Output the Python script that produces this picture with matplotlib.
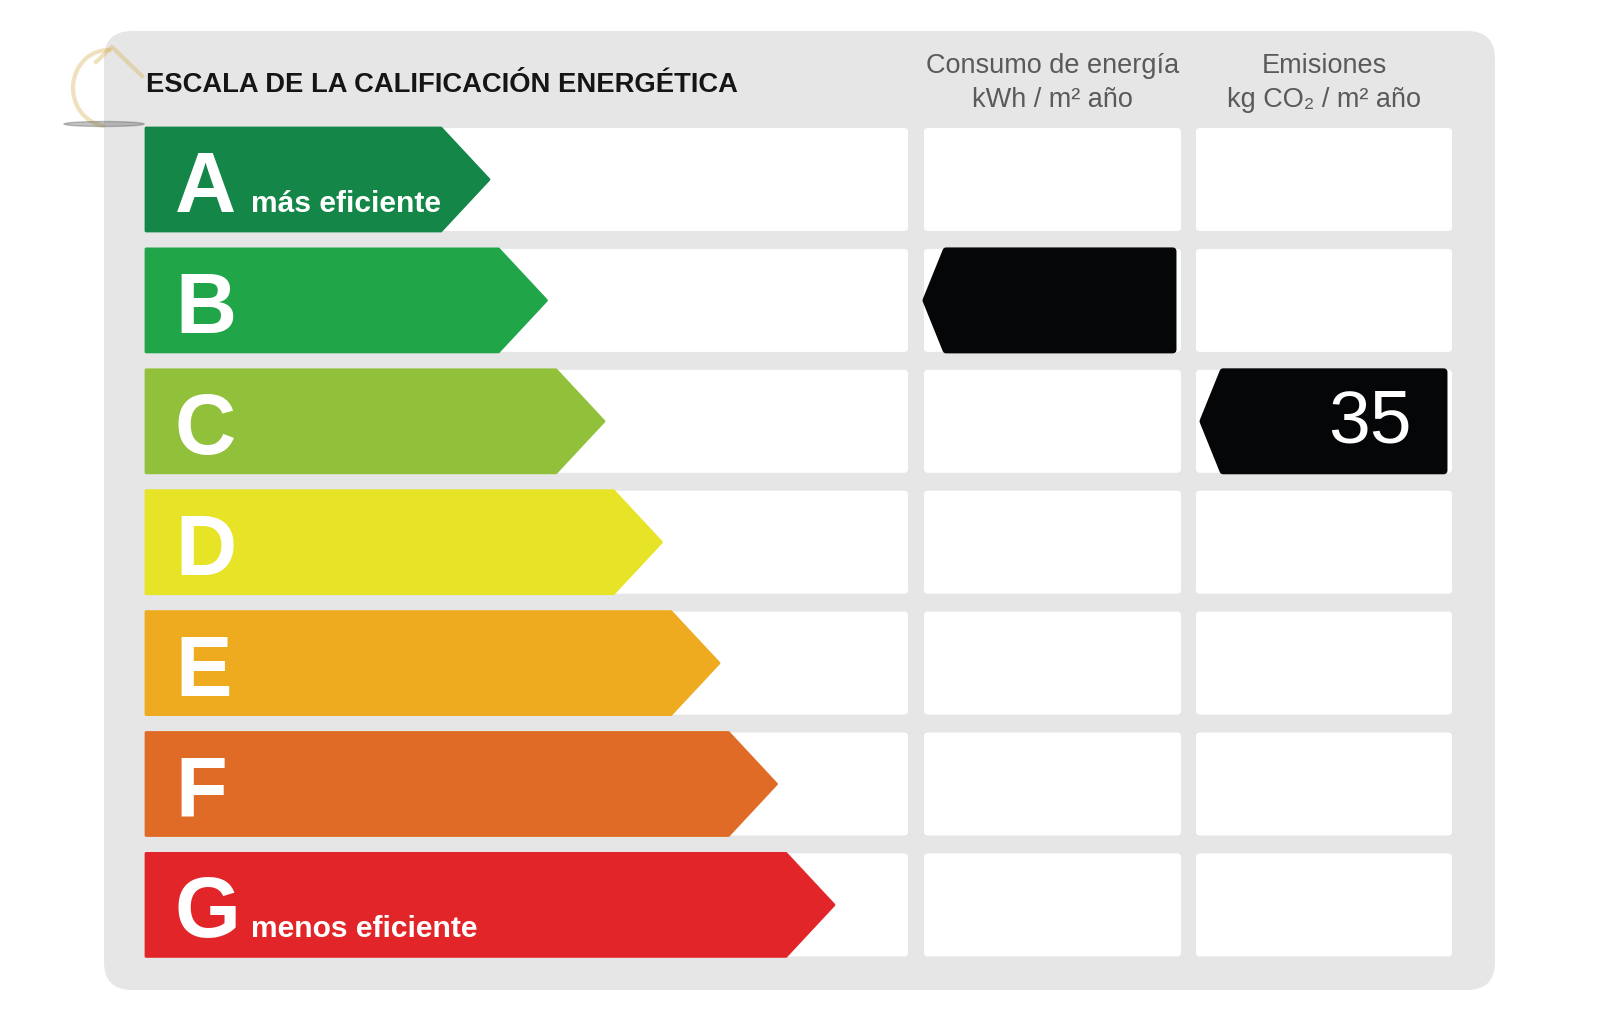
import matplotlib
matplotlib.use('Agg')
import matplotlib.pyplot as plt
from matplotlib import font_manager
from matplotlib.patches import FancyBboxPatch, Polygon, Arc, Ellipse

# Energy rating scale data
ratings = ['A', 'B', 'C', 'D', 'E', 'F', 'G']
rating_colors = ['#138648', '#20a548', '#91c13a', '#e7e326',
                 '#eeab20', '#e06b26', '#e22529']
best_label = 'más eficiente'
worst_label = 'menos eficiente'

title = 'ESCALA DE LA CALIFICACIÓN ENERGÉTICA'
col_headers = ['Consumo de energía\nkWh / m² año', 'Emisiones\nkg CO₂ / m² año']

# Result of this property: letter and value per column
consumption_rating = 'B'
consumption_value = ''
emission_rating = 'C'
emission_value = 35

# Layout (pixels, y downwards)
W, H = 1600, 1025
row_top0 = 128
row_pitch = 120.9
row_h = 103
col1 = (146, 908)
col2 = (924, 1181)
col3 = (1196, 1452)
tip0 = 489
tip_step = 57.5
tip_depth = 48

fig = plt.figure(figsize=(16, 10.25), dpi=100)
ax = fig.add_axes([0, 0, 1, 1])
ax.set_xlim(0, W)
ax.set_ylim(H, 0)
ax.axis('off')
fig.patch.set_facecolor('white')

sans = ['Liberation Sans', 'DejaVu Sans']

# condensed bold face for the title if one is installed
title_kw = dict(family=['Liberation Sans', 'DejaVu Sans'], fontsize=19.7)
for fam in ['Liberation Sans Narrow', 'Noto Sans', 'Roboto', 'Open Sans']:
    fp = font_manager.FontProperties(family=fam, weight='bold', stretch='condensed')
    try:
        path = font_manager.findfont(fp, fallback_to_default=False)
    except Exception:
        continue
    if 'ondensed' in path or 'Narrow' in path:
        title_kw = dict(family=[fam, 'DejaVu Sans'], fontstretch='condensed',
                        fontsize=24)
        break

# Grey rounded panel
ax.add_patch(FancyBboxPatch((104, 31), 1391, 959,
                            boxstyle='round,pad=0,rounding_size=28',
                            fc='#e6e6e6', ec='none', zorder=0))

# Header texts
ax.text(146, 92, title, fontweight='bold', color='#151515', ha='left',
        va='baseline', zorder=3, **title_kw)
for header, (x0, x1) in zip(col_headers, [col2, col3]):
    ax.text((x0 + x1) / 2, 83, header, family=sans, fontsize=19.5,
            color='#5a5a5a', ha='center', va='center', linespacing=1.38)

# Faint watermark logo
ax.add_patch(Arc((108, 88), 70, 76, theta1=95, theta2=275, lw=3,
                 color='#d9b45a', alpha=0.4, zorder=2))
ax.plot([96, 112, 142], [62, 47, 76], color='#d9b45a', lw=3, alpha=0.4,
        zorder=2)
ax.add_patch(Ellipse((104, 124), 80, 5, color='#555555', alpha=0.35,
                     zorder=2))

for i, (letter, color) in enumerate(zip(ratings, rating_colors)):
    top = row_top0 + i * row_pitch
    bottom = top + row_h
    mid = (top + bottom) / 2
    # white cells
    for (x0, x1) in [col1, col2, col3]:
        ax.add_patch(FancyBboxPatch((x0, top), x1 - x0, row_h,
                                    boxstyle='round,pad=0,rounding_size=4',
                                    fc='white', ec='none', zorder=1))
    # coloured arrow
    tip = tip0 + i * tip_step
    ax.add_patch(Polygon([(col1[0], top), (tip - tip_depth, top), (tip, mid),
                          (tip - tip_depth, bottom), (col1[0], bottom)],
                         closed=True, fc=color, ec=color, lw=2,
                         joinstyle='round', zorder=2))
    ax.text(175, top + 84, letter, family=sans, fontweight='bold',
            fontsize=61, color='white', ha='left', va='baseline', zorder=3)
    if i == 0:
        ax.text(251, top + 84, best_label, family=sans, fontweight='bold',
                fontsize=21.6, color='white', ha='left', va='baseline', zorder=3)
    if i == len(ratings) - 1:
        ax.text(251, top + 84, worst_label, family=sans, fontweight='bold',
                fontsize=21.6, color='white', ha='left', va='baseline', zorder=3)


def result_arrow(rating, value, col, shift):
    i = ratings.index(rating)
    top = row_top0 + i * row_pitch + 2
    bottom = top + row_h - 4
    mid = (top + bottom) / 2
    x0, x1 = col[0] + shift, col[1] - 8
    ax.add_patch(Polygon([(x0, mid), (x0 + 20, top), (x1, top), (x1, bottom),
                          (x0 + 20, bottom)], closed=True, fc='#050608',
                         ec='#050608', lw=5, joinstyle='round', zorder=4))
    if value != '':
        ax.text(x1 - 32, mid + 2, str(value), family=sans, fontsize=54,
                color='white', ha='right', va='center', zorder=5)


result_arrow(consumption_rating, consumption_value, col2, 2)
result_arrow(emission_rating, emission_value, col3, 7)

fig.savefig('out.png', dpi=100, facecolor='white')
